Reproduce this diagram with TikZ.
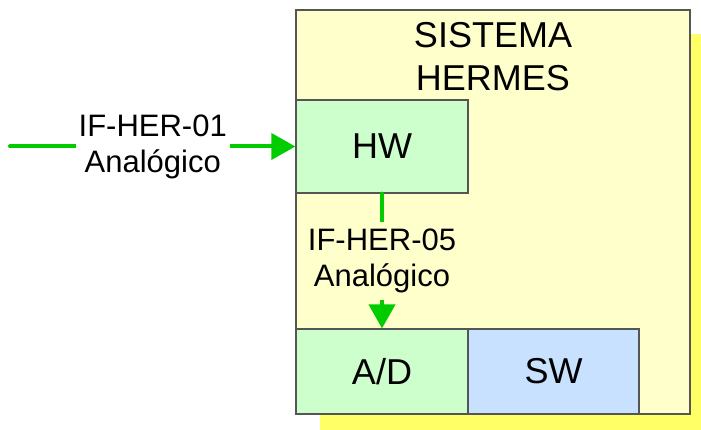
\documentclass[tikz,border=0pt]{standalone}
\usepackage{fontspec}
\setmainfont{Liberation Sans}
\usetikzlibrary{arrows.meta}
\definecolor{sysfill}{HTML}{FFFFCC}
\definecolor{shadowfill}{HTML}{FFFF66}
\definecolor{hwfill}{HTML}{CCFFCC}
\definecolor{swfill}{HTML}{C8E1FF}
\definecolor{linkgreen}{HTML}{00CC00}
\definecolor{edgegray}{HTML}{555555}
\tikzset{
  block/.style={draw=edgegray, line width=1.2pt, inner sep=0pt,
    font=\fontsize{36}{40}\selectfont},
  link/.style={draw=linkgreen, line width=4pt, line cap=round,
    -{Triangle[length=24pt,width=26pt]}},
  linklabel/.style={align=center, inner xsep=3pt, inner ysep=7pt,
    font=\fontsize{31}{36}\selectfont}
}
\begin{document}
\begin{tikzpicture}[x=1pt,y=-1pt]
\useasboundingbox (0,0) rectangle (701,430);
\clip (0,0) rectangle (701,430);
% drop shadow of the system box
\fill[shadowfill] (320,34) rectangle (714,438);
% system box and its title
\node[block, fill=sysfill, minimum width=394pt, minimum height=404pt] (sys) at (493,212) {};
\node[align=center, font=\fontsize{36}{43}\selectfont] (title) at (493,56.5) {SISTEMA\\HERMES};
% inner blocks
\node[block, fill=hwfill, minimum width=172pt, minimum height=93pt] (hw) at (382,146.5) {HW};
\node[block, fill=hwfill, minimum width=172pt, minimum height=85pt] (ad) at (382,371.5) {A/D};
\node[block, fill=swfill, minimum width=171pt, minimum height=85pt] (sw) at (553.5,371.5) {SW};
% interfaces
\coordinate (src) at (10,146.5);
\draw[link] (src) -- (hw.west)
  node[midway, linklabel, fill=white] (if1) {IF-HER-01\\Analógico};
\draw[link] (hw.south) -- (ad.north)
  node[midway, linklabel, fill=sysfill] (if5) {IF-HER-05\\Analógico};
\end{tikzpicture}
\end{document}
